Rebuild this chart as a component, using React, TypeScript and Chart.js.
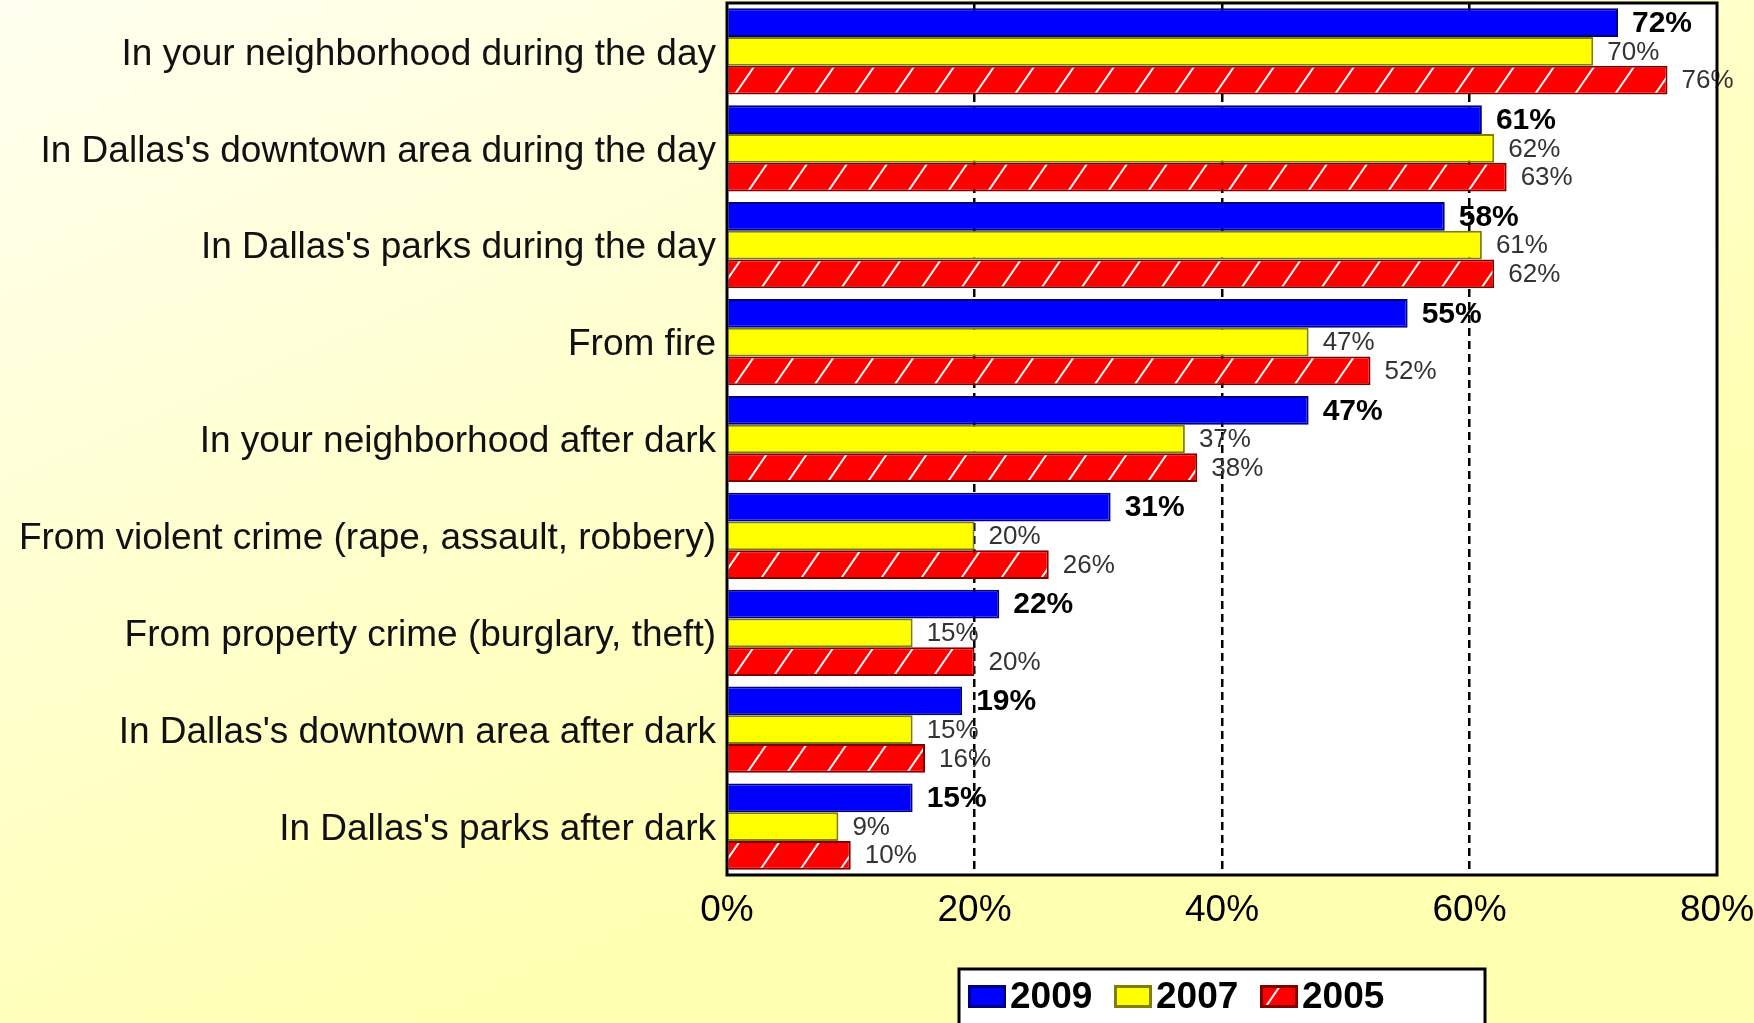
import React, { useEffect, useRef } from "react";
import { Chart, registerables } from "chart.js";

Chart.register(...registerables);

const categories = [
  "In your neighborhood during the day",
  "In Dallas's downtown area during the day",
  "In Dallas's parks during the day",
  "From fire",
  "In your neighborhood after dark",
  "From violent crime (rape, assault, robbery)",
  "From property crime (burglary, theft)",
  "In Dallas's downtown area after dark",
  "In Dallas's parks after dark",
];
const seriesLabels = ["2009", "2007", "2005"];
const values2009 = [72, 61, 58, 55, 47, 31, 22, 19, 15];
const values2007 = [70, 62, 61, 47, 37, 20, 15, 15, 9];
const values2005 = [76, 63, 62, 52, 38, 26, 20, 16, 10];
const xMin = 0;
const xMax = 80;
const xStep = 20;

const BASE = "'Liberation Sans', Arial, Helvetica, sans-serif";

function fontAvailable(name: string): boolean {
  const c = document.createElement("canvas").getContext("2d");
  if (!c) return false;
  const s = "In Dallas's downtown area abcdefghijklmnop";
  c.font = "40px monospace";
  const a = c.measureText(s).width;
  c.font = `40px "${name}", monospace`;
  const b = c.measureText(s).width;
  return Math.abs(a - b) > 0.5;
}

function makeHatch(): CanvasPattern | string {
  const c = document.createElement("canvas");
  c.width = 40;
  c.height = 58;
  const g = c.getContext("2d");
  if (!g) return "#ff0000";
  g.fillStyle = "#ff0000";
  g.fillRect(0, 0, 40, 58);
  g.strokeStyle = "#ffffff";
  g.lineWidth = 2;
  for (const off of [-40, 0, 40]) {
    g.beginPath();
    g.moveTo(off, 58);
    g.lineTo(off + 40, 0);
    g.stroke();
  }
  return g.createPattern(c, "repeat") || "#ff0000";
}

export default function App() {
  const ref = useRef<HTMLCanvasElement | null>(null);

  useEffect(() => {
    if (!ref.current) return;
    const narrow = fontAvailable("Liberation Sans Narrow");
    const yFont = narrow
      ? { family: "'Liberation Sans Narrow', 'Arial Narrow', sans-serif", size: 45 }
      : { family: BASE, size: 37 };
    const hatch = makeHatch();
    const fills = ["#0000ff", "#ffff00", hatch];
    const borders = ["#000080", "#808000", "#800000"];

    const bgPlugin = {
      id: "bg",
      beforeDraw(chart: any) {
        const { ctx, width, height, chartArea: ca } = chart;
        ctx.save();
        const grad = ctx.createLinearGradient(0, 0, width * 0.25, height);
        grad.addColorStop(0, "#fffff0");
        grad.addColorStop(1, "#ffffb2");
        ctx.fillStyle = grad;
        ctx.fillRect(0, 0, width, height);
        ctx.fillStyle = "#ffffff";
        ctx.fillRect(ca.left, ca.top, ca.right - ca.left, ca.bottom - ca.top);
        ctx.restore();
      },
    };

    const valuePlugin = {
      id: "values",
      afterDatasetsDraw(chart: any) {
        const { ctx } = chart;
        ctx.save();
        ctx.textAlign = "left";
        ctx.textBaseline = "middle";
        chart.data.datasets.forEach((ds: any, di: number) => {
          const meta = chart.getDatasetMeta(di);
          meta.data.forEach((el: any, i: number) => {
            const p = el.getProps(["x", "y"], true);
            if (di === 0) {
              ctx.font = `bold 30px ${BASE}`;
              ctx.fillStyle = "#000000";
            } else {
              ctx.font = `26px ${BASE}`;
              ctx.fillStyle = "#333333";
            }
            ctx.fillText(ds.data[i] + "%", p.x + 14, p.y + 1);
          });
        });
        ctx.restore();
      },
    };

    const framePlugin = {
      id: "frame",
      afterDraw(chart: any) {
        const { ctx, chartArea: ca } = chart;
        ctx.save();
        ctx.strokeStyle = "#000000";
        ctx.lineWidth = 3;
        ctx.strokeRect(ca.left, ca.top, ca.right - ca.left, ca.bottom - ca.top);

        // legend
        const cx = (ca.left + ca.right) / 2;
        const bx = cx - 263;
        const by = ca.bottom + 94;
        ctx.fillStyle = "#ffffff";
        ctx.fillRect(bx, by, 526, 80);
        ctx.strokeStyle = "#000000";
        ctx.lineWidth = 3;
        ctx.strokeRect(bx, by, 526, 80);
        ctx.font = `bold 37px ${BASE}`;
        ctx.textAlign = "left";
        ctx.textBaseline = "middle";
        const ds = chart.data.datasets;
        ds.forEach((d: any, i: number) => {
          const x = bx + 9 + i * 146;
          const y = by + 16;
          ctx.fillStyle = d.backgroundColor;
          ctx.fillRect(x, y, 38, 23);
          ctx.strokeStyle = d.borderColor;
          ctx.lineWidth = 3;
          ctx.strokeRect(x + 1.5, y + 1.5, 35, 20);
          ctx.fillStyle = "#000000";
          ctx.fillText(d.label, x + 42, y + 13);
        });
        ctx.restore();
      },
    };

    const seriesValues = [values2009, values2007, values2005];
    const chart = new Chart(ref.current, {
      type: "bar",
      data: {
        labels: categories,
        datasets: seriesLabels.map((lab, i) => ({
          label: lab,
          data: seriesValues[i],
          backgroundColor: fills[i] as any,
          borderColor: borders[i],
          borderWidth: 2,
          categoryPercentage: 0.89,
          barPercentage: 1.0,
        })),
      },
      options: {
        indexAxis: "y",
        responsive: false,
        animation: false,
        devicePixelRatio: 1,
        layout: { padding: { top: 3, right: 37, left: 0, bottom: 0 } },
        plugins: {
          legend: { display: false },
          tooltip: { enabled: false },
        },
        scales: {
          x: {
            min: xMin,
            max: xMax,
            ticks: {
              stepSize: xStep,
              padding: 14,
              color: "#000000",
              font: { family: BASE, size: 37 },
              callback: (v: any) => v + "%",
              maxRotation: 0,
            },
            grid: {
              color: (c: any) =>
                c.tick && (c.tick.value === xMin || c.tick.value === xMax)
                  ? "rgba(0,0,0,0)"
                  : "#000000",
              lineWidth: 2.5,
              drawTicks: false,
            },
            border: { display: false, dash: [8, 5] },
            afterFit: (scale: any) => {
              scale.height = 148;
              scale.paddingLeft = 0;
              scale.paddingRight = 0;
            },
          },
          y: {
            ticks: {
              padding: 11,
              labelOffset: 3,
              color: "#111111",
              font: yFont,
              autoSkip: false,
            },
            grid: { display: false, drawTicks: false },
            border: { display: false },
            afterFit: (scale: any) => {
              scale.width = 727;
              scale.paddingTop = 0;
              scale.paddingBottom = 0;
            },
          },
        },
      },
      plugins: [bgPlugin, valuePlugin, framePlugin],
    });
    return () => chart.destroy();
  }, []);

  return (
    <div style={{ position: "absolute", left: 0, top: 0, width: 1754, height: 1023 }}>
      <canvas ref={ref} width={1754} height={1023} style={{ display: "block" }} />
    </div>
  );
}
